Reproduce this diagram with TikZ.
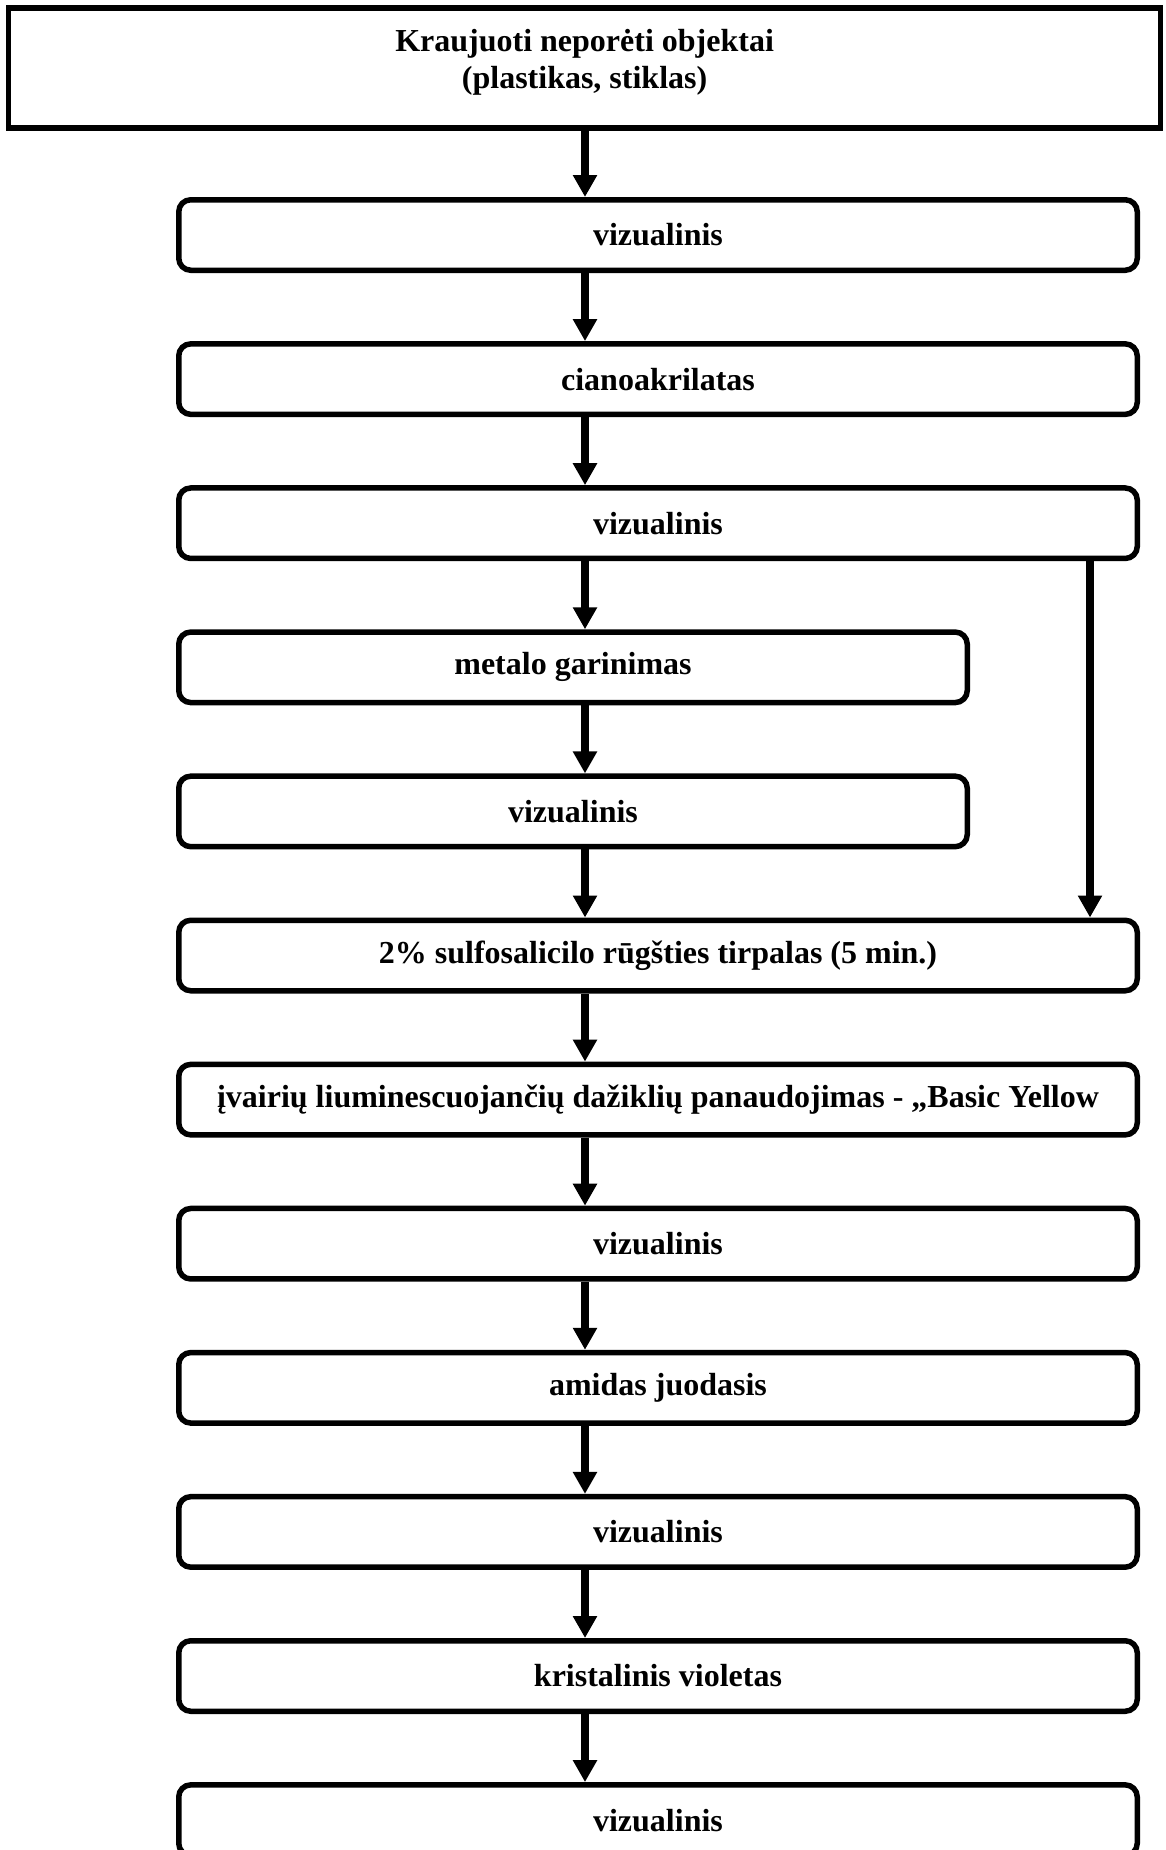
\documentclass[tikz,border=0pt]{standalone}
\usepackage{fontspec}
\setmainfont{Liberation Serif}
\usetikzlibrary{arrows.meta}
\begin{document}
\begin{tikzpicture}[x=1pt,y=-1pt,
  boxtext/.style={font=\fontsize{32}{37}\selectfont\bfseries},
  flowbox/.style={boxtext, draw, line width=5.5pt, rounded corners=12pt,
    minimum height=70.5pt, inner sep=0pt},
  widebox/.style={flowbox, minimum width=958.5pt},
  narrowbox/.style={flowbox, minimum width=788.5pt},
  titlebox/.style={draw, line width=5.5pt, minimum width=1151.75pt,
    minimum height=120pt, inner sep=0pt},
  flow/.style={line width=7.5pt, -{Triangle[width=23pt,length=22pt]}}]
\useasboundingbox (0,0) rectangle (1165,1850);
\clip (0,0) rectangle (1165,1850);

% title frame and its two-line caption
\node[titlebox] (t) at (584.6,68) {};
\node[boxtext, align=center, inner sep=0pt] (tt) at ([yshift=6pt]t.center)
  {Kraujuoti neporėti objektai\\(plastikas, stiklas)};

% process steps
\node[widebox]   (b1)  at (658,235)    {vizualinis};
\node[widebox]   (b2)  at (658,379.1)  {cianoakrilatas};
\node[widebox]   (b3)  at (658,523.2)  {vizualinis};
\node[narrowbox] (b4)  at (573,667.3)  {metalo garinimas};
\node[narrowbox] (b5)  at (573,811.4)  {vizualinis};
\node[widebox]   (b6)  at (658,955.5)  {2\% sulfosalicilo rūgšties tirpalas (5 min.)};
\node[widebox]   (b7)  at (658,1099.6) {įvairių liuminescuojančių dažiklių panaudojimas - „Basic Yellow};
\node[widebox]   (b8)  at (658,1243.7) {vizualinis};
\node[widebox]   (b9)  at (658,1387.8) {amidas juodasis};
\node[widebox]   (b10) at (658,1531.9) {vizualinis};
\node[widebox]   (b11) at (658,1676)   {kristalinis violetas};
\node[widebox]   (b12) at (658,1820.1) {vizualinis};

% connector columns
\coordinate (ax) at (585,0);
\coordinate (rx) at (1090,0);

\draw[flow] (t.south -| ax) -- (b1.north -| ax);
\foreach \a/\b in {b1/b2,b2/b3,b3/b4,b4/b5,b5/b6,b6/b7,b7/b8,b8/b9,b9/b10,b10/b11,b11/b12}
  \draw[flow] (\a.south -| ax) -- (\b.north -| ax);
\draw[flow] (b3.south -| rx) -- (b6.north -| rx);
\end{tikzpicture}
\end{document}
